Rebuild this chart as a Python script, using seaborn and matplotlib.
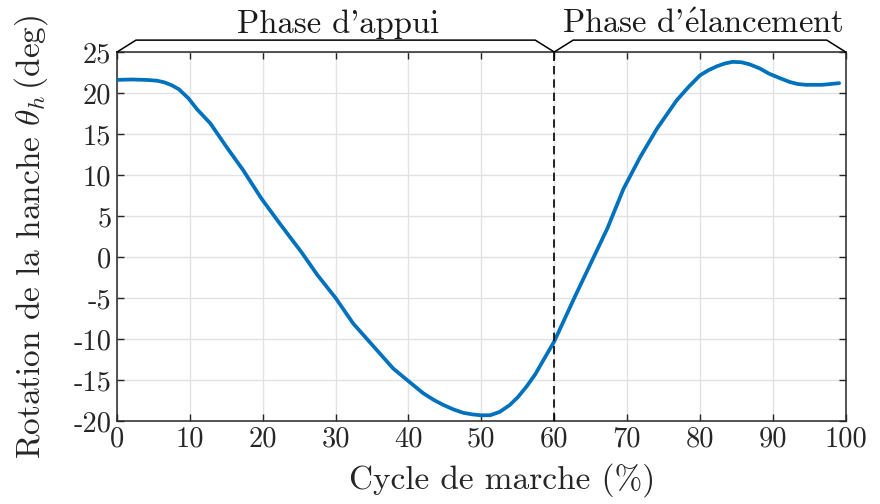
import matplotlib
matplotlib.use("Agg")
import matplotlib.pyplot as plt
import seaborn as sns
import pandas as pd

# Hip rotation over one gait cycle
cycle_pct = [0, 2, 4, 5.5, 6.5, 7.5, 8.5, 9.8, 11, 12.8, 15, 17.3, 19.8, 22.4,
             25.3, 27.5, 30, 32.4, 35.6, 37.9, 39.8, 42, 43.5, 44.8, 46.2,
             47.5, 48.8, 49.9, 51.2, 52.5, 53.9, 55, 56.2, 57.4, 58.5, 60,
             62.7, 65, 67.3, 69.5, 71.8, 74.1, 76.8, 78.5, 80, 81.2, 82.3,
             83.4, 84.5, 85.7, 86.8, 88.2, 89.5, 91, 92.3, 93.4, 94.5, 96.8,
             99.1]
hip_rotation = [21.6, 21.65, 21.6, 21.5, 21.3, 20.95, 20.45, 19.35, 18.0, 16.3,
                13.45, 10.6, 7.15, 4.0, 0.6, -2.2, -5.0, -8.1, -11.3, -13.6,
                -15.0, -16.6, -17.45, -18.05, -18.6, -19.0, -19.2, -19.3,
                -19.3, -18.9, -18.05, -17.1, -15.8, -14.3, -12.6, -10.3,
                -5.1, -0.8, 3.5, 8.3, 12.2, 15.65, 19.1, 20.8, 22.15, 22.8,
                23.25, 23.6, 23.8, 23.75, 23.5, 23.0, 22.35, 21.8, 21.35, 21.1,
                21.0, 21.0, 21.2]

x_ticks = [0, 10, 20, 30, 40, 50, 60, 70, 80, 90, 100]
y_ticks = [-20, -15, -10, -5, 0, 5, 10, 15, 20, 25]

phase_names = ["Phase d'appui", "Phase d'$\\mathrm{\\acute{e}}$lancement"]
phase_bounds = [(0, 60), (60, 100)]
toe_off = 60

sns.set_style("ticks")
plt.rcParams.update({
    "font.family": ["cmr10", "DejaVu Serif"],
    "mathtext.fontset": "cm",
    "axes.unicode_minus": False,
    "axes.formatter.use_mathtext": False,
})

fig = plt.figure(figsize=(8.8, 5.04), dpi=100)
ax = fig.add_axes([0.133, 0.1647, 0.828, 0.7321])

df = pd.DataFrame({"cycle": cycle_pct, "theta": hip_rotation})
sns.lineplot(data=df, x="cycle", y="theta", ax=ax, color="#0072BD",
             linewidth=2.7, zorder=3)

ax.axvline(toe_off, color="black", linestyle=(0, (5, 3)), linewidth=1.2,
           zorder=4)

ax.set_xlim(0, 100)
ax.set_ylim(-20, 25)
ax.set_xticks(x_ticks)
ax.set_yticks(y_ticks)
ax.set_xticklabels([str(v) for v in x_ticks])
ax.set_yticklabels([str(v) for v in y_ticks])
ax.grid(True, color="#e2e2e2", linewidth=1.0, zorder=0)
ax.set_axisbelow(True)

for s in ax.spines.values():
    s.set_visible(True)
    s.set_color("#262626")
    s.set_linewidth(1.1)
ax.tick_params(direction="in", length=5, width=1.0, color="#262626",
               top=True, right=True, labelsize=20.5, labelcolor="#262626",
               pad=4)

ax.set_xlabel("Cycle de marche (%)", fontsize=24, color="#262626",
              labelpad=7)
ax.xaxis.label.set_x(0.528)
ax.set_ylabel("Rotation de la hanche $\\theta_h\\,$(deg)", fontsize=24,
              color="#262626", labelpad=17)

# Phase brackets above the axes
rise, slant = 1.45, 2.6
for (x0, x1), name in zip(phase_bounds, phase_names):
    top = 25 + rise
    ax.plot([x0, x0 + slant, x1 - slant, x1], [25, top, top, 25],
            color="black", linewidth=1.1, clip_on=False, zorder=5)
    ax.text((x0 + x1) / 2 + 0.4, top + 0.85, name, ha="center", va="baseline",
            fontsize=23.5, color="#1a1a1a", clip_on=False)

fig.savefig("out.png", dpi=100)
